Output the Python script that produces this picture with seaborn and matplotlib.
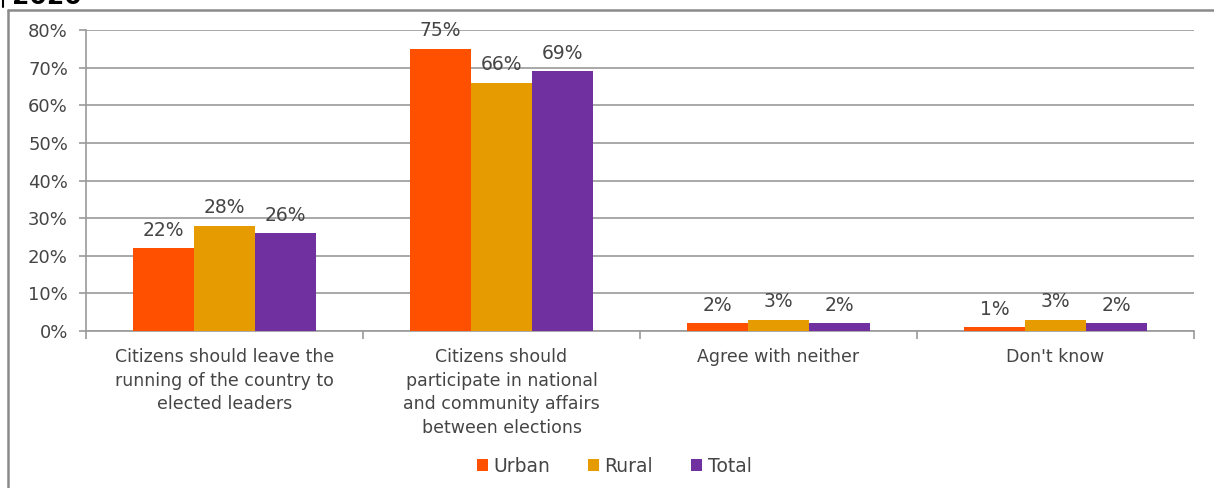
import matplotlib
matplotlib.use("Agg")
import matplotlib.pyplot as plt
from matplotlib.lines import Line2D
from matplotlib.patches import Patch
import seaborn as sns
import pandas as pd

categories = [
    "Citizens should leave the\nrunning of the country to\nelected leaders",
    "Citizens should\nparticipate in national\nand community affairs\nbetween elections",
    "Agree with neither",
    "Don't know",
]
groups = ["Urban", "Rural", "Total"]
urban = [22, 75, 2, 1]
rural = [28, 66, 3, 3]
total = [26, 69, 2, 2]
yticks = [0, 10, 20, 30, 40, 50, 60, 70, 80]
colors = ["#FF5000", "#E69C00", "#7030A0"]

rows = []
for g, vals in zip(groups, [urban, rural, total]):
    for c, v in zip(categories, vals):
        rows.append({"category": c, "group": g, "value": v})
df = pd.DataFrame(rows)

sns.set_theme(style="white")
plt.rcParams["font.family"] = ["DejaVu Sans"]
text_color = "#454545"
grid_color = "#9a9a9a"

fig = plt.figure(figsize=(12.14, 4.88), dpi=100)
ax = fig.add_axes([86 / 1214, 1 - 331 / 488, (1194 - 86) / 1214, (331 - 30) / 488])

sns.barplot(data=df, x="category", y="value", hue="group", order=categories,
            hue_order=groups, palette=colors, width=0.66, saturation=1,
            linewidth=0, errorbar=None, legend=False, ax=ax, zorder=3)

ax.set_ylim(0, 80)
ax.set_xlim(-0.5, len(categories) - 0.5)
ax.set_yticks(yticks)
ax.set_yticklabels([f"{t}%" for t in yticks])
ax.yaxis.grid(True, color=grid_color, linewidth=1.2, zorder=0)
ax.set_axisbelow(True)
ax.set_xlabel("")
ax.set_ylabel("")

for side in ["top", "right"]:
    ax.spines[side].set_visible(False)
for side in ["left", "bottom"]:
    ax.spines[side].set_color(grid_color)
    ax.spines[side].set_linewidth(1.2)

ax.tick_params(axis="y", which="major", length=5, width=1.2, color=grid_color,
               labelsize=13, labelcolor=text_color, pad=8, left=True)
ax.set_xticks(range(len(categories)))
ax.set_xticklabels(categories, fontsize=12.5, color=text_color, linespacing=1.42,
                   va="top")
ax.tick_params(axis="x", which="major", length=0, pad=12)
ax.set_xticks([i + 0.5 for i in range(-1, len(categories))], minor=True)
ax.tick_params(axis="x", which="minor", length=6, width=1.2, color=grid_color,
               bottom=True)

for container in ax.containers:
    for bar in container:
        h = bar.get_height()
        ax.annotate(f"{h:.0f}%", (bar.get_x() + bar.get_width() / 2, h),
                    xytext=(0, 13), textcoords="offset points",
                    ha="center", va="center", fontsize=13.5, color=text_color,
                    zorder=5)

handles = [Patch(facecolor=c, edgecolor="none") for c in colors]
fig.legend(handles, groups, loc="center", bbox_to_anchor=(614 / 1214, 1 - 466 / 488),
           ncol=3, frameon=False, fontsize=13.5, handlelength=0.6, handleheight=0.6,
           handletextpad=0.3, columnspacing=2.0, labelcolor=text_color)

# outer frame of the chart block
frame_color = "#8a8a8a"
fig.add_artist(Line2D([8 / 1214, 1.0], [1 - 10 / 488, 1 - 10 / 488],
                      transform=fig.transFigure, color=frame_color, linewidth=1.8))
fig.add_artist(Line2D([8 / 1214, 8 / 1214], [0, 1 - 10 / 488],
                      transform=fig.transFigure, color=frame_color, linewidth=1.8))
# heading above the frame, mostly outside the canvas
fig.add_artist(Line2D([2.5 / 1214, 2.5 / 1214], [1 - 7 / 488, 1.0],
                      transform=fig.transFigure, color="black", linewidth=1.5))
fig.text(12 / 1214, 1 - 3.5 / 488, "2020", fontsize=18, fontweight="bold",
         color="black", ha="left", va="baseline")

fig.savefig("out.png", dpi=100, facecolor="white")
